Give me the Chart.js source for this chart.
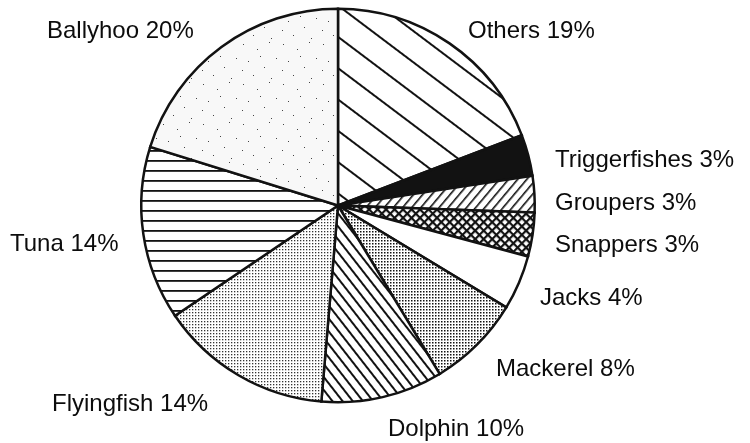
<!DOCTYPE html>
<html lang="en">
<head>
  <meta charset="UTF-8">
  <title>Catch Composition</title>
  <script src="https://cdn.jsdelivr.net/npm/chart.js"></script>
  <style>
    html, body { margin: 0; padding: 0; background: #fff; }
    #wrap { width: 750px; height: 443px; }
  </style>
</head>
<body>
  <div id="wrap"><canvas id="pieChart" width="750" height="443"></canvas></div>

  <script>
    // Slices clockwise from 12 o'clock
    const species = ['Others', 'Triggerfishes', 'Groupers', 'Snappers', 'Jacks',
                     'Mackerel', 'Dolphin', 'Flyingfish', 'Tuna', 'Ballyhoo'];
    // Printed percentages
    const printedPct = [19, 3, 3, 3, 4, 8, 10, 14, 14, 20];
    // Slice sizes
    const sliceShare = [19.2, 3.4, 3.0, 3.6, 4.5, 7.7, 10.0, 14.2, 14.3, 20.2];

    // Where each label sits (left x, baseline y)
    const labelAt = [
      [468, 38], [555, 167], [555, 210], [555, 252], [540, 305],
      [496, 376], [388, 436], [52, 411], [10, 251], [47, 38]
    ];

    const canvas = document.getElementById('pieChart');
    const ctx = canvas.getContext('2d');
    const INK = '#121212';

    function tile(w, h, draw) {
      const c = document.createElement('canvas');
      c.width = w; c.height = h;
      const t = c.getContext('2d');
      t.fillStyle = '#fff';
      t.fillRect(0, 0, w, h);
      t.fillStyle = INK;
      draw(t);
      return c;
    }

    function hatch(spacing, width, angle) {
      const p = ctx.createPattern(tile(16, spacing, t => t.fillRect(0, 0, 16, width)), 'repeat');
      p.setTransform(new DOMMatrix().rotateSelf(angle));
      return p;
    }

    function crossHatch(size, width) {
      const p = ctx.createPattern(tile(size, size, t => {
        t.fillRect(0, 0, size, width);
        t.fillRect(0, 0, width, size);
      }), 'repeat');
      p.setTransform(new DOMMatrix().rotateSelf(45));
      return p;
    }

    function dots(size, dot, color) {
      return ctx.createPattern(tile(size, size, t => {
        t.fillStyle = color;
        t.fillRect(0, 0, dot, dot);
      }), 'repeat');
    }

    function sparseDots() {
      const spots = [[3, 4], [17, 9], [29, 2], [8, 21], [24, 27], [36, 18], [13, 35], [31, 38], [2, 30], [20, 16]];
      return ctx.createPattern(tile(40, 40, t => {
        t.fillStyle = '#f8f8f8';
        t.fillRect(0, 0, 40, 40);
        t.fillStyle = '#444';
        spots.forEach(([x, y]) => t.fillRect(x, y, 1, 1));
      }), 'repeat');
    }

    const fills = [
      hatch(25, 2, 37),          // Others
      INK,                       // Triggerfishes
      hatch(7, 1.6, -50),        // Groupers
      crossHatch(6.5, 2.2),      // Snappers
      '#fff',                    // Jacks
      dots(3, 1.5, '#111'),      // Mackerel
      hatch(8, 2, 52),           // Dolphin
      dots(3, 1.3, '#333'),      // Flyingfish
      hatch(10, 1.8, 0),         // Tuna
      sparseDots()               // Ballyhoo
    ];

    const labelPlugin = {
      id: 'sliceLabels',
      afterDraw(chart) {
        const c = chart.ctx;
        c.save();
        c.font = '24px "Liberation Sans", Arial, sans-serif';
        c.fillStyle = '#0c0c0c';
        c.textAlign = 'left';
        c.textBaseline = 'alphabetic';
        species.forEach((name, i) => {
          c.fillText(name + ' ' + printedPct[i] + '%', labelAt[i][0], labelAt[i][1]);
        });
        c.restore();
      }
    };

    new Chart(ctx, {
      type: 'pie',
      data: {
        labels: species,
        datasets: [{
          data: sliceShare,
          backgroundColor: fills,
          borderColor: INK,
          borderWidth: 2.5,
          borderJoinStyle: 'miter'
        }]
      },
      options: {
        responsive: false,
        animation: false,
        layout: { padding: { left: 140, right: 214, top: 7, bottom: 39 } },
        plugins: {
          legend: { display: false },
          tooltip: { enabled: false }
        }
      },
      plugins: [labelPlugin]
    });
  </script>
</body>
</html>
